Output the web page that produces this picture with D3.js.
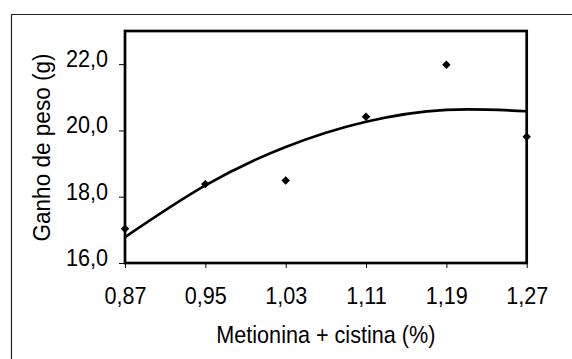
<!DOCTYPE html>
<html>
<head>
<meta charset="utf-8">
<script src="https://cdn.jsdelivr.net/npm/d3@7"></script>
<style>
  body { margin: 0; background: #fff; }
  text { font-family: "Liberation Sans", Arial, sans-serif; fill: #000; }
</style>
</head>
<body>
<svg id="chart" width="572" height="359"></svg>
<script>
// metionina + cistina levels (%)
const levels = [0.87, 0.95, 1.03, 1.11, 1.19, 1.27];
// observed weight gain (g)
const gain = [17.03, 18.38, 18.49, 20.41, 21.98, 19.81];
// fitted curve at each level
const fitted = [16.78, 18.34, 19.50, 20.26, 20.62, 20.58];
const yTicks = [16, 18, 20, 22];

const svg = d3.select("#chart");
const plotL = 125, plotR = 526.7, plotT = 31, plotB = 263;

const x = d3.scaleLinear().domain([0.87, 1.27]).range([plotL, plotR]);
const y = d3.scaleLinear().domain([16, 23]).range([plotB, plotT]);

const comma = f => v => d3.format(f)(v).replace(".", ",");

// outer border (runs off the right and bottom edges)
svg.append("path")
  .attr("d", "M11.5,400 L11.5,14.5 L600,14.5")
  .attr("fill", "none").attr("stroke", "#222").attr("stroke-width", 1.2);

// x axis
const xa = svg.append("g").attr("transform", `translate(0,${plotB})`)
  .call(d3.axisBottom(x).tickValues(levels).tickSize(5).tickSizeOuter(0).tickFormat(comma(".2f")));
xa.select(".domain").remove();
xa.selectAll("line").attr("stroke", "#000");
xa.selectAll("text")
  .attr("y", 0).attr("dy", 0)
  .attr("font-size", 24)
  .attr("transform", "translate(0,41) scale(0.9,1)");

// y axis
const ya = svg.append("g").attr("transform", `translate(${plotL},0)`)
  .call(d3.axisLeft(y).tickValues(yTicks).tickSize(6).tickSizeOuter(0).tickFormat(comma(".1f")));
ya.select(".domain").remove();
ya.selectAll("line").attr("stroke", "#000");
ya.selectAll("text")
  .attr("x", 0).attr("dy", 0)
  .attr("font-size", 24)
  .attr("transform", "translate(-17,2.5) scale(0.9,1)");

// plot frame
svg.append("rect")
  .attr("x", plotL).attr("y", plotT)
  .attr("width", plotR - plotL).attr("height", plotB - plotT)
  .attr("fill", "none").attr("stroke", "#000").attr("stroke-width", 2.7);

// fitted curve
const line = d3.line()
  .x((d, i) => x(levels[i]))
  .y(d => y(d))
  .curve(d3.curveNatural);
svg.append("path")
  .datum(fitted)
  .attr("d", line)
  .attr("fill", "none").attr("stroke", "#000").attr("stroke-width", 2.6);

// observed points
const diamond = d3.symbol().type(d3.symbolSquare).size(36);
svg.selectAll(".pt").data(gain).enter().append("path")
  .attr("class", "pt")
  .attr("d", diamond)
  .attr("transform", (d, i) => `translate(${x(levels[i])},${y(d)}) rotate(45)`)
  .attr("fill", "#000");

// axis titles
svg.append("text")
  .attr("font-size", 24).attr("text-anchor", "middle")
  .attr("transform", `translate(${(plotL + plotR) / 2},343) scale(0.9,1)`)
  .text("Metionina + cistina (%)");

svg.append("text")
  .attr("font-size", 24).attr("text-anchor", "middle")
  .attr("transform", "translate(50,147.5) rotate(-90) scale(0.94,1)")
  .text("Ganho de peso (g)");
</script>
</body>
</html>
